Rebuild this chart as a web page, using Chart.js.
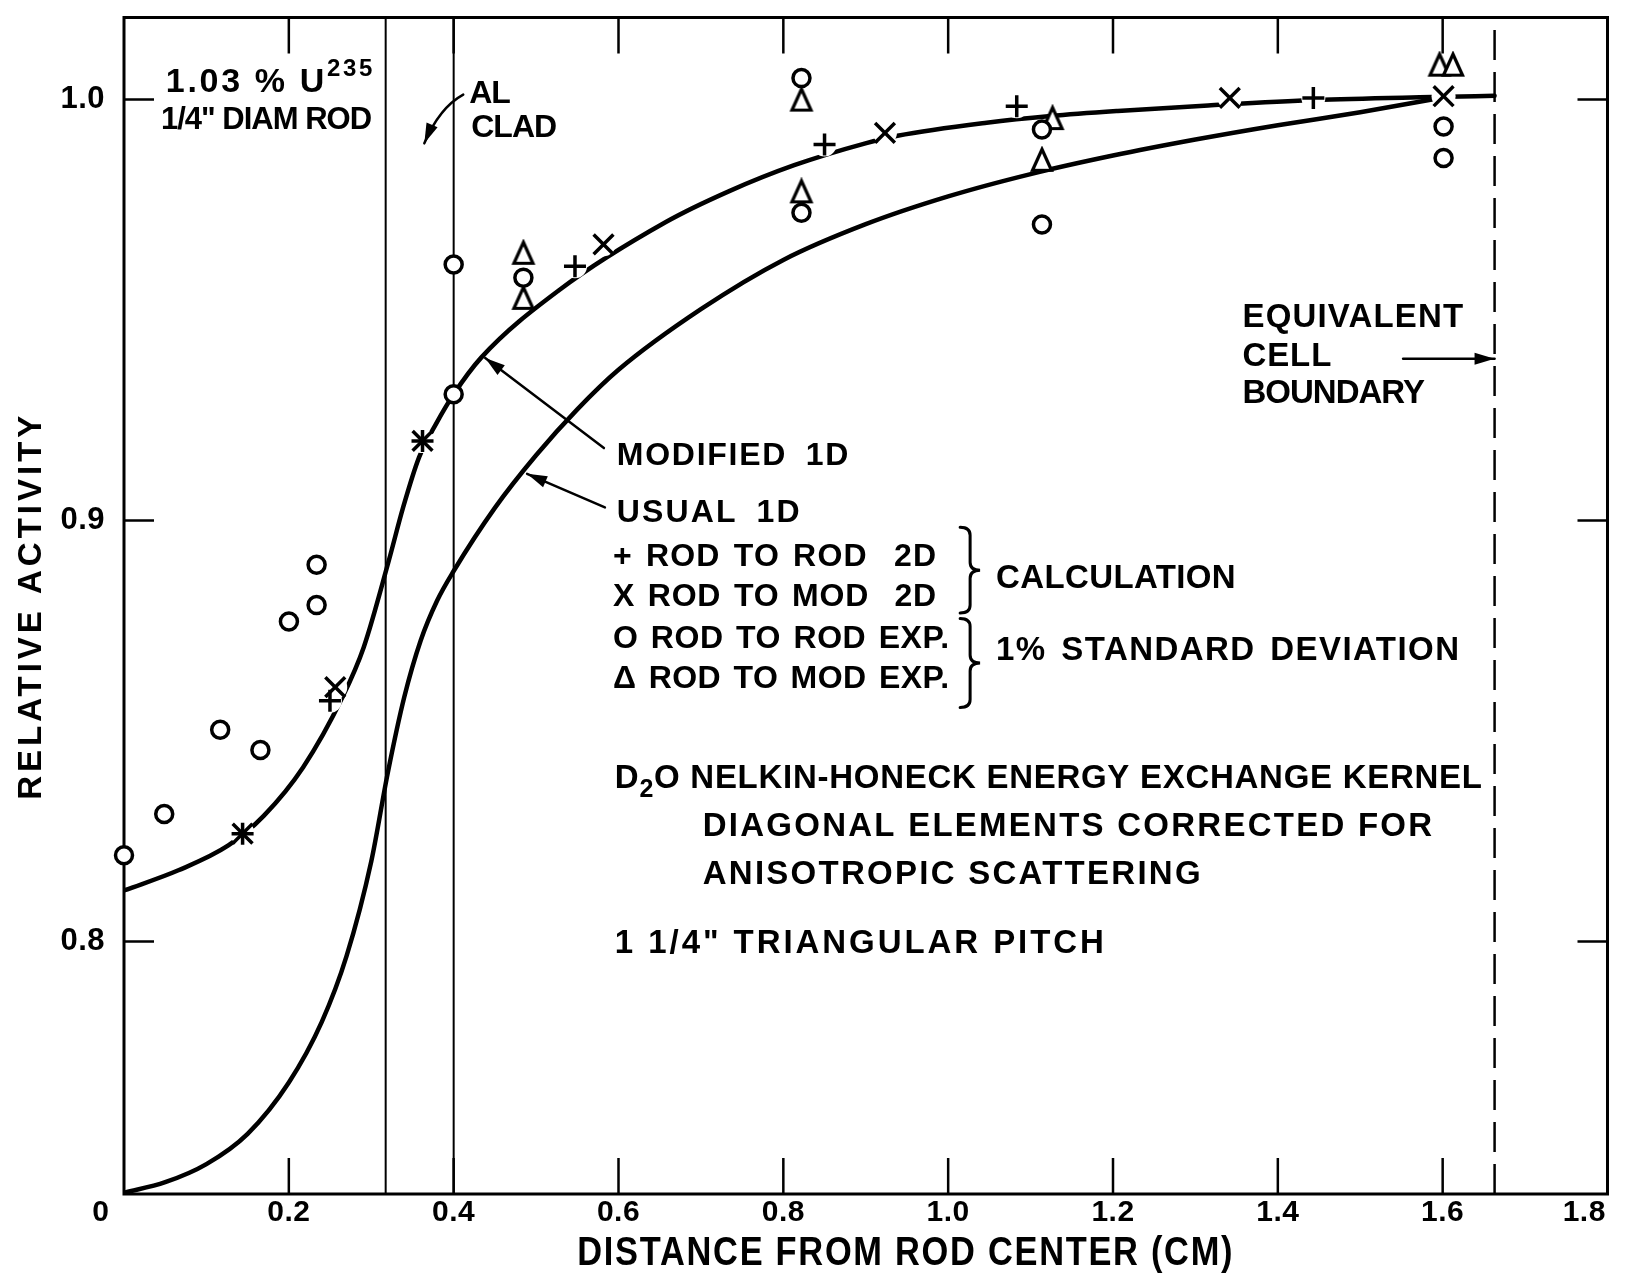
<!DOCTYPE html>
<html>
<head>
<meta charset="utf-8">
<title>Relative activity vs distance from rod center</title>
<script src="https://cdn.jsdelivr.net/npm/chart.js@4.4.1/dist/chart.umd.min.js"></script>
<style>
  html, body { margin: 0; padding: 0; background: #fff; }
  canvas { display: block; }
</style>
</head>
<body>
<canvas id="activity" width="1625" height="1274"></canvas>
<script>
// ---------- data ----------
// Modified 1D calculation (distance in cm, relative activity)
const modifiedX = [0, 0.066, 0.1266, 0.1698, 0.2174, 0.265, 0.2909, 0.3212, 0.3385, 0.358, 0.3793, 0.400,
  0.4334, 0.5278, 0.6575, 0.7351, 0.8132, 0.8996, 0.9386, 1.0467, 1.1243, 1.2058, 1.3154, 1.445, 1.587, 1.663];
const modifiedY = [0.8121, 0.8169, 0.8228, 0.8299, 0.8414, 0.8580, 0.8699, 0.8904, 0.9030, 0.9150, 0.9232, 0.9300,
  0.9387, 0.9547, 0.9709, 0.9783, 0.9844, 0.9896, 0.9914, 0.9945, 0.9961, 0.9973, 0.9986, 0.9999, 1.0006, 1.0009];

// Usual 1D calculation
const usualX = [0, 0.05, 0.10, 0.15, 0.20, 0.24, 0.27, 0.30, 0.32, 0.34, 0.36, 0.38, 0.40, 0.45, 0.50, 0.55,
  0.60, 0.70, 0.80, 0.90, 1.00, 1.10, 1.20, 1.30, 1.40, 1.50, 1.587];
const usualY = [0.7403, 0.7428, 0.7471, 0.7543, 0.7665, 0.7809, 0.7965, 0.8190, 0.8400, 0.8580, 0.8715, 0.8810,
  0.8880, 0.9030, 0.9155, 0.9264, 0.9358, 0.9502, 0.9619, 0.9704, 0.9770, 0.9823, 0.9867, 0.9905, 0.9939, 0.9970, 1.0000];

// + rod to rod 2D calculation
const rodRod2dX = [0.1439, 0.2499, 0.3622, 0.5472, 0.8500, 1.0832, 1.4431];
const rodRod2dY = [0.8256, 0.8572, 0.9189, 0.9604, 0.9893, 0.9984, 1.0004];

// x rod to moderator 2D calculation
const rodMod2dX = [0.1439, 0.2563, 0.3622, 0.5818, 0.9233, 1.3417, 1.6011];
const rodMod2dY = [0.8256, 0.8604, 0.9189, 0.9656, 0.9921, 1.0004, 1.0008];

// o rod to rod experiment
const rodRodExpX = [0, 0.0488, 0.1167, 0.1655, 0.2001, 0.2337, 0.2337, 0.400, 0.400, 0.4846,
  0.822, 0.822, 1.1138, 1.1138, 1.6011, 1.6011];
const rodRodExpY = [0.8205, 0.8303, 0.8503, 0.8455, 0.8760, 0.8799, 0.8895, 0.9608, 0.9300, 0.9577,
  1.0051, 0.9731, 0.9929, 0.9703, 0.9936, 0.9861];

// triangle rod to moderator experiment
const rodModExpX = [0.4846, 0.4846, 0.822, 0.822, 1.1266, 1.1138, 1.5962, 1.6125];
const rodModExpY = [0.9636, 0.9529, 1.0000, 0.9782, 0.9956, 0.9857, 1.0083, 1.0083];

// geometry of the cell (cm)
const rodRadius = 0.3175;
const cladRadius = 0.400;
const cellBoundary = 1.663;

// axes
const xTicks = [0, 0.2, 0.4, 0.6, 0.8, 1.0, 1.2, 1.4, 1.6, 1.8];
const yTicks = [0.8, 0.9, 1.0];
const xMin = 0, xMax = 1.8;
const yMin = 0.74, yMax = 1.0195;

// ---------- styling ----------
const ink = '#000';
const LETTER = '"Liberation Sans", Arial, sans-serif';

const pts = (xs, ys) => xs.map((x, i) => ({ x, y: ys[i] }));
const vline = (x) => [{ x, y: yMin }, { x, y: yMax }];

// lettered delta used for the rod-to-moderator experiment marks
function deltaGlyph() {
  const c = document.createElement('canvas');
  c.width = 26; c.height = 28;
  const g = c.getContext('2d');
  g.lineWidth = 3.2;
  g.lineJoin = 'miter';
  g.strokeStyle = ink;
  g.fillStyle = '#fff';
  g.beginPath();
  g.moveTo(13, 3.5);
  g.lineTo(22.5, 24.5);
  g.lineTo(3.5, 24.5);
  g.closePath();
  g.fill();
  g.stroke();
  return c;
}

// ---------- annotation text, leaders and braces (data units) ----------
const notes = [
  { parts: [['1.03 % U', 34], ['235', 24, -13]], x: 0.0508, x2: 0.3015, y: 1.0041 },
  { parts: [['1/4" DIAM ROD', 31]], x: 0.0448, x2: 0.2979, y: 0.9951 },
  { parts: [['AL', 32]], x: 0.4189, x2: 0.4673, y: 1.0012 },
  { parts: [['CLAD', 32]], x: 0.4213, x2: 0.5254, y: 0.9932 },
  { parts: [['EQUIVALENT', 33]], x: 1.3571, x2: 1.6247, y: 0.9481 },
  { parts: [['CELL', 33]], x: 1.3571, x2: 1.4649, y: 0.9388 },
  { parts: [['BOUNDARY', 33]], x: 1.3571, x2: 1.5775, y: 0.9300 },
  { parts: [['MODIFIED 1D', 32]], x: 0.598, x2: 0.8789, y: 0.9153, ws: 8 },
  { parts: [['USUAL 1D', 32]], x: 0.598, x2: 0.8196, y: 0.9018, ws: 8 },
  { parts: [['+ ROD TO ROD  2D', 32]], x: 0.5932, x2: 0.9855, y: 0.8912, ws: 3 },
  { parts: [['X ROD TO MOD  2D', 32]], x: 0.5932, x2: 0.9855, y: 0.8817, ws: 3 },
  { parts: [['O ROD TO ROD EXP.', 32]], x: 0.5932, x2: 1.0012, y: 0.8717, ws: 3 },
  { parts: [['\u0394 ROD TO MOD EXP.', 32]], x: 0.5932, x2: 1.0012, y: 0.8624, ws: 3 },
  { parts: [['CALCULATION', 33]], x: 1.0581, x2: 1.3487, y: 0.8862 },
  { parts: [['1% STANDARD DEVIATION', 33]], x: 1.0581, x2: 1.6199, y: 0.8691, ws: 4 },
  { parts: [['D', 33], ['2', 25, 12], ['O NELKIN-HONECK ENERGY EXCHANGE KERNEL', 33]], x: 0.5956, x2: 1.6477, y: 0.8387 },
  { parts: [['DIAGONAL ELEMENTS CORRECTED FOR', 33]], x: 0.7022, x2: 1.5872, y: 0.8271 },
  { parts: [['ANISOTROPIC SCATTERING', 33]], x: 0.7022, x2: 1.3063, y: 0.8159 },
  { parts: [['1 1/4" TRIANGULAR PITCH', 33]], x: 0.5956, x2: 1.1889, y: 0.7993 }
];

const leaders = [
  { from: [0.4116, 1.0012], via: [0.3826, 0.9981], to: [0.3644, 0.9896] },
  { from: [0.5823, 0.9172], to: [0.4383, 0.9386] },
  { from: [0.5835, 0.9031], to: [0.4891, 0.9111] },
  { from: [1.552, 0.9384], to: [cellBoundary, 0.9384] }
];

const braces = [
  { x: 1.0145, y1: 0.8984, y2: 0.8780 },
  { x: 1.0145, y1: 0.8767, y2: 0.8556 }
];

// ---------- plugins ----------
function toPx(chart, x, y) {
  return [chart.scales.x.getPixelForValue(x), chart.scales.y.getPixelForValue(y)];
}

// run a scale's own draw step with letter spacing and an optional horizontal squeeze
function wrapDraw(scale, name, spacing, dx, squeeze) {
  const orig = scale[name];
  scale[name] = function (...args) {
    const c = this.ctx;
    c.save();
    c.letterSpacing = spacing;
    if (squeeze) {
      const cx = (this.left + this.right) / 2;
      c.translate(cx + (dx || 0), 0);
      c.scale(squeeze, 1);
      c.translate(-cx, 0);
    } else if (dx) {
      c.translate(dx, 0);
    }
    try { return orig.apply(this, args); } finally { c.restore(); }
  };
}

const letteringPlugin = {
  id: 'lettering',
  afterLayout(chart) {
    const { x, y } = chart.scales;
    if (!x._lettered) {
      x._lettered = true;
      wrapDraw(x, 'drawTitle', '2px', 40, 0.86);
      wrapDraw(x, 'drawLabels', '0.5px', 0, 0);
    }
    if (!y._lettered) {
      y._lettered = true;
      wrapDraw(y, 'drawTitle', '4px', 0, 0);
      wrapDraw(y, 'drawLabels', '0.5px', 0, 0);
    }
  }
};

const framePlugin = {
  id: 'frame',
  beforeDraw(chart) {
    const { ctx, width, height } = chart;
    ctx.save();
    ctx.fillStyle = '#fff';
    ctx.fillRect(0, 0, width, height);
    ctx.restore();
  },
  beforeDatasetsDraw(chart) {
    const { ctx, chartArea: a, scales: { x, y } } = chart;
    ctx.save();
    ctx.strokeStyle = ink;
    ctx.lineWidth = 3;
    ctx.strokeRect(a.left, a.top, a.right - a.left, a.bottom - a.top);
    ctx.lineWidth = 2.5;
    ctx.beginPath();
    x.ticks.forEach(t => {
      if (t.value <= xMin || t.value >= xMax) return;
      const p = x.getPixelForValue(t.value);
      ctx.moveTo(p, a.bottom); ctx.lineTo(p, a.bottom - 36);
      ctx.moveTo(p, a.top); ctx.lineTo(p, a.top + 36);
    });
    y.ticks.forEach(t => {
      const p = y.getPixelForValue(t.value);
      ctx.moveTo(a.left, p); ctx.lineTo(a.left + 30, p);
      ctx.moveTo(a.right, p); ctx.lineTo(a.right - 30, p);
    });
    ctx.stroke();
    ctx.restore();
  }
};

function arrowHead(ctx, tx, ty, fx, fy, len, half) {
  const ang = Math.atan2(ty - fy, tx - fx);
  const bx = tx - Math.cos(ang) * len, by = ty - Math.sin(ang) * len;
  ctx.beginPath();
  ctx.moveTo(tx, ty);
  ctx.lineTo(bx + Math.sin(ang) * half, by - Math.cos(ang) * half);
  ctx.lineTo(bx - Math.sin(ang) * half, by + Math.cos(ang) * half);
  ctx.closePath();
  ctx.fill();
}

const annotationPlugin = {
  id: 'notes',
  afterDatasetsDraw(chart) {
    const { ctx } = chart;
    ctx.save();
    ctx.fillStyle = ink;
    ctx.strokeStyle = ink;
    ctx.textBaseline = 'middle';
    ctx.textAlign = 'left';

    // lettering, spread to the span each line occupies
    notes.forEach(n => {
      const [x0, yc] = toPx(chart, n.x, n.y);
      ctx.wordSpacing = (n.ws || 0) + 'px';
      ctx.letterSpacing = '0px';
      let w0 = 0, count = 0;
      n.parts.forEach(([t, size]) => {
        ctx.font = `bold ${size}px ${LETTER}`;
        w0 += ctx.measureText(t).width;
        count += [...t].length;
      });
      let ls = 0;
      if (n.x2 !== undefined) {
        const target = chart.scales.x.getPixelForValue(n.x2) - x0;
        ls = (target - w0) / Math.max(1, count - 1);
        ls = Math.max(-1, Math.min(10, ls));
      }
      ctx.letterSpacing = ls.toFixed(2) + 'px';
      let cx = x0;
      n.parts.forEach(([t, size, dy]) => {
        ctx.font = `bold ${size}px ${LETTER}`;
        ctx.fillText(t, cx, yc + (dy || 0));
        cx += ctx.measureText(t).width;
      });
    });
    ctx.letterSpacing = '0px';
    ctx.wordSpacing = '0px';

    // leaders with arrowheads
    ctx.lineWidth = 2.5;
    ctx.lineCap = 'round';
    leaders.forEach(l => {
      const [fx, fy] = toPx(chart, ...l.from);
      const [tx, ty] = toPx(chart, ...l.to);
      ctx.beginPath();
      ctx.moveTo(fx, fy);
      let ax = fx, ay = fy;
      if (l.via) {
        const [vx, vy] = toPx(chart, ...l.via);
        ctx.quadraticCurveTo(vx, vy, tx, ty);
        ax = vx; ay = vy;
      } else {
        ctx.lineTo(tx, ty);
      }
      ctx.stroke();
      arrowHead(ctx, tx, ty, ax, ay, 20, 6);
    });

    // curly braces grouping the legend lines
    ctx.lineWidth = 3;
    braces.forEach(b => {
      const [x0, yTop] = toPx(chart, b.x, b.y1);
      const yBot = chart.scales.y.getPixelForValue(b.y2);
      const yMid = (yTop + yBot) / 2;
      const w = 20, xm = x0 + w * 0.5, r = 8;
      ctx.beginPath();
      ctx.moveTo(x0, yTop);
      ctx.quadraticCurveTo(xm, yTop, xm, yTop + r);
      ctx.lineTo(xm, yMid - r);
      ctx.quadraticCurveTo(xm, yMid, x0 + w, yMid);
      ctx.quadraticCurveTo(xm, yMid, xm, yMid + r);
      ctx.lineTo(xm, yBot - r);
      ctx.quadraticCurveTo(xm, yBot, x0, yBot);
      ctx.stroke();
    });
    ctx.restore();
  }
};

// x tick text: the end labels sit just inside the frame corners
const EN = '\u2002';
function xTickText(v) {
  if (v === xMin) return '0' + EN.repeat(3);
  if (v === xMax) return Number(v).toFixed(1) + EN.repeat(3);
  return Number(v).toFixed(1);
}

// ---------- chart ----------
const calcPoints = pts(rodRod2dX, rodRod2dY).concat(pts(rodMod2dX, rodMod2dY));

new Chart(document.getElementById('activity'), {
  type: 'scatter',
  data: {
    datasets: [
      { label: 'Rod to rod 2D', data: pts(rodRod2dX, rodRod2dY), pointStyle: 'cross', pointRadius: 11,
        pointBorderWidth: 3.5, pointBorderColor: ink, clip: false, order: 1 },
      { label: 'Rod to mod 2D', data: pts(rodMod2dX, rodMod2dY), pointStyle: 'crossRot', pointRadius: 14,
        pointBorderWidth: 3.5, pointBorderColor: ink, clip: false, order: 1 },
      { label: 'Rod to rod exp.', data: pts(rodRodExpX, rodRodExpY), pointStyle: 'circle', pointRadius: 8.5,
        pointBorderWidth: 3.5, pointBorderColor: ink, pointBackgroundColor: '#fff', clip: false, order: 2 },
      { label: 'Rod to mod exp.', data: pts(rodModExpX, rodModExpY), pointStyle: deltaGlyph(), pointRadius: 10,
        clip: false, order: 2 },
      { label: 'gap', data: calcPoints, pointStyle: 'circle', pointRadius: 12, pointBorderWidth: 0,
        pointBackgroundColor: '#fff', pointBorderColor: '#fff', clip: false, order: 3 },
      { label: 'Modified 1D', data: pts(modifiedX, modifiedY), showLine: true, pointRadius: 0,
        borderColor: ink, borderWidth: 4.5, cubicInterpolationMode: 'monotone', borderCapStyle: 'round', order: 4 },
      { label: 'Usual 1D', data: pts(usualX, usualY), showLine: true, pointRadius: 0,
        borderColor: ink, borderWidth: 4.5, cubicInterpolationMode: 'monotone', borderCapStyle: 'round', order: 4 },
      { label: 'Rod surface', data: vline(rodRadius), showLine: true, pointRadius: 0,
        borderColor: ink, borderWidth: 2, order: 5 },
      { label: 'Al clad', data: vline(cladRadius), showLine: true, pointRadius: 0,
        borderColor: ink, borderWidth: 2, order: 5 },
      { label: 'Equivalent cell boundary', data: vline(cellBoundary), showLine: true, pointRadius: 0,
        borderColor: ink, borderWidth: 2.5, borderDash: [30, 12], order: 5 }
    ]
  },
  options: {
    responsive: false,
    animation: false,
    events: [],
    layout: { padding: { left: 0, top: 16, right: 14, bottom: 0 } },
    plugins: { legend: { display: false }, tooltip: { enabled: false } },
    scales: {
      x: {
        type: 'linear', min: xMin, max: xMax,
        afterFit(s) { s.height = 80; s.paddingLeft = 0; s.paddingRight = 0; },
        afterBuildTicks(s) { s.ticks = xTicks.map(v => ({ value: v })); },
        grid: { display: false, drawTicks: false },
        border: { display: false },
        ticks: {
          color: ink, padding: 1, maxRotation: 0, autoSkip: false,
          font: { family: LETTER, size: 30, weight: 'bold' },
          callback: v => xTickText(v)
        },
        title: {
          display: true, text: 'DISTANCE FROM ROD CENTER (CM)', color: ink,
          font: { family: LETTER, size: 40, weight: 'bold', lineHeight: 1 },
          padding: { top: 0, bottom: 0 }
        }
      },
      y: {
        type: 'linear', min: yMin, max: yMax,
        afterFit(s) { s.width = 124; s.paddingTop = 0; s.paddingBottom = 0; },
        afterBuildTicks(s) { s.ticks = yTicks.map(v => ({ value: v })); },
        grid: { display: false, drawTicks: false },
        border: { display: false },
        ticks: {
          color: ink, padding: 19,
          font: { family: LETTER, size: 31, weight: 'bold' },
          callback: v => Number(v).toFixed(1)
        },
        title: {
          display: true, text: 'RELATIVE ACTIVITY', color: ink,
          font: { family: LETTER, size: 33, weight: 'bold' },
          padding: { top: 12, bottom: 0 }
        }
      }
    }
  },
  plugins: [letteringPlugin, framePlugin, annotationPlugin]
});
</script>
</body>
</html>
